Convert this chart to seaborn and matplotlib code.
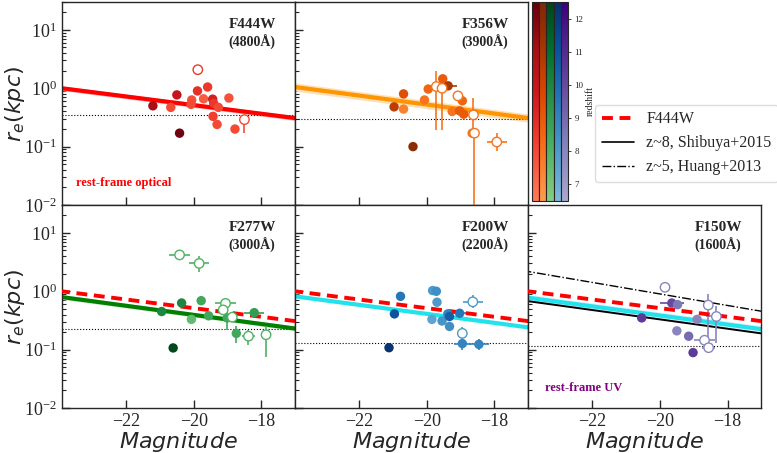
import matplotlib
matplotlib.use("Agg")
import matplotlib.colors as mcolors
import matplotlib.pyplot as plt
import numpy as np
import seaborn as sns
from matplotlib.lines import Line2D

# ---- F444W (4800A) ----
mag_f444 = [-21.21, -20.68, -20.50, -20.42, -20.06, -20.08, -19.88, -19.89, -19.71,
            -19.59, -19.44, -19.41, -19.27, -19.43, -19.31, -18.96, -18.78, -18.50]
re_f444 = [0.50, 0.47, 0.77, 0.17, 0.63, 0.53, 2.08, 0.90, 0.66,
           1.05, 0.65, 0.55, 0.47, 0.33, 0.24, 0.68, 0.20, 0.29]
z_f444 = [11.0, 8.0, 10.0, 12.3, 7.8, 8.0, 8.5, 8.8, 7.5,
          8.5, 9.5, 8.5, 8.0, 8.3, 8.0, 7.8, 8.0, 8.0]
open_f444 = [0, 0, 0, 0, 0, 0, 1, 0, 0, 0, 0, 0, 0, 0, 0, 0, 0, 1]
xerr_f444 = [0] * 18
ylo_f444 = [0] * 17 + [0.17]
yhi_f444 = [0] * 17 + [0.29]

# ---- F356W (3900A) ----
mag_f356 = [-20.97, -20.69, -20.69, -20.41, -20.07, -19.96, -19.72, -19.53, -19.55, -19.37,
            -19.25, -19.08, -18.95, -19.03, -18.91, -18.62, -18.66, -18.59, -17.93]
re_f356 = [0.48, 0.80, 0.44, 0.10, 0.63, 0.97, 1.07, 1.45, 1.00, 1.10,
           0.40, 0.74, 0.61, 0.41, 0.36, 0.35, 0.17, 0.17, 0.12]
z_f356 = [10.5, 9.5, 7.5, 12.0, 8.0, 8.5, 8.0, 9.0, 8.0, 11.0,
          8.0, 8.0, 8.5, 9.0, 9.0, 8.0, 8.0, 8.0, 8.0]
open_f356 = [0, 0, 0, 0, 0, 0, 1, 0, 1, 0, 0, 1, 0, 0, 0, 1, 0, 1, 1]
xerr_f356 = [0, 0, 0, 0, 0, 0, 0.3, 0, 0, 0.25, 0, 0, 0, 0, 0, 0, 0, 0, 0.3]
ylo_f356 = [0, 0, 0, 0, 0, 0, 0.19, 0, 0.19, 0, 0, 0, 0, 0, 0, 0.2, 0, 0.0101, 0.085]
yhi_f356 = [0, 0, 0, 0, 0, 0, 1.95, 0, 1.7, 0, 0, 0, 0, 0, 0, 0.69, 0, 0.2, 0.17]

# ---- F277W (3000A) ----
mag_f277 = [-20.42, -19.84, -20.95, -20.36, -20.61, -19.78, -20.07, -19.56,
            -19.06, -19.13, -19.01, -18.86, -18.74, -18.38, -18.21, -17.86]
re_f277 = [4.2, 3.0, 0.45, 0.63, 0.107, 0.69, 0.33, 0.38,
           0.62, 0.48, 0.35, 0.36, 0.19, 0.17, 0.43, 0.18]
z_f277 = [8.0, 8.0, 10.0, 10.0, 12.3, 8.5, 7.5, 8.5,
          8.0, 8.0, 8.5, 8.0, 8.5, 8.0, 9.0, 8.0]
open_f277 = [1, 1, 0, 0, 0, 0, 0, 0, 1, 1, 0, 1, 0, 1, 0, 1]
xerr_f277 = [0.3, 0.3, 0, 0, 0, 0, 0, 0, 0.3, 0, 0, 0, 0, 0.2, 0.3, 0]
ylo_f277 = [0, 2.1, 0, 0, 0, 0, 0, 0, 0, 0, 0.22, 0, 0.13, 0.12, 0, 0.075]
yhi_f277 = [0, 4.1, 0, 0, 0, 0, 0, 0, 0, 0, 0.5, 0, 0.25, 0.22, 0, 0.25]

# ---- F200W (2200A) ----
mag_f200 = [-20.78, -20.96, -21.12, -19.83, -19.72, -19.70, -19.85, -19.55,
            -19.38, -19.33, -19.33, -19.03, -18.64, -18.95, -18.95, -18.46]
re_f200 = [0.82, 0.41, 0.108, 1.03, 1.00, 0.65, 0.33, 0.31,
           0.41, 0.37, 0.25, 0.42, 0.66, 0.19, 0.127, 0.123]
z_f200 = [9.5, 11.0, 12.3, 8.0, 8.5, 8.0, 7.5, 8.3,
          9.0, 10.5, 8.5, 9.5, 8.0, 8.0, 9.0, 9.0]
open_f200 = [0, 0, 0, 0, 0, 0, 0, 0, 0, 0, 0, 0, 1, 1, 0, 0]
xerr_f200 = [0, 0, 0, 0, 0, 0, 0, 0, 0, 0, 0, 0.3, 0.3, 0, 0.25, 0.3]
ylo_f200 = [0, 0, 0, 0, 0, 0, 0, 0, 0, 0, 0, 0, 0.52, 0.16, 0.10, 0.10]
yhi_f200 = [0, 0, 0, 0, 0, 0, 0, 0, 0, 0, 0, 0, 0.85, 0.24, 0.16, 0.155]

# ---- F150W (1600A) ----
mag_f150 = [-20.54, -19.85, -19.65, -19.48, -19.50, -19.15,
            -19.02, -18.90, -18.57, -18.33, -18.68, -18.56]
re_f150 = [0.35, 1.17, 0.63, 0.59, 0.21, 0.17,
           0.089, 0.33, 0.58, 0.37, 0.145, 0.108]
z_f150 = [10.5, 8.0, 10.0, 8.5, 8.0, 9.0, 10.5, 8.0, 8.0, 8.0, 8.0, 8.0]
open_f150 = [0, 1, 0, 0, 0, 0, 0, 0, 1, 1, 1, 1]
xerr_f150 = [0, 0, 0.35, 0, 0, 0, 0, 0, 0, 0.3, 0.3, 0.2]
ylo_f150 = [0, 0, 0, 0, 0, 0, 0, 0, 0.089, 0.13, 0, 0]
yhi_f150 = [0, 0, 0, 0, 0, 0, 0, 0, 0.91, 0.55, 0, 0]

# size-luminosity fits: r = r0 * 10**(slope * (M + 20))
fit_r0 = {"F444W": 0.514, "F356W": 0.525, "F277W": 0.394, "F200W": 0.41, "F150W": 0.385}
fit_slope = {"F444W": -0.074, "F356W": -0.077, "F277W": -0.078, "F200W": -0.077, "F150W": -0.078}
shibuya_r0, shibuya_slope = 0.33, -0.080
huang_r0, huang_slope = 0.90, -0.0986
psf_limit = {"F444W": 0.35, "F356W": 0.30, "F277W": 0.225, "F200W": 0.13, "F150W": 0.115}

z_min, z_max = 6.5, 12.5

sns.set_style("ticks")
plt.rcParams["font.family"] = ["Liberation Serif", "DejaVu Sans"]
plt.rcParams["mathtext.fontset"] = "stix"
plt.rcParams["axes.linewidth"] = 1.0


def trunc_cmap(name, lo=0.45, hi=1.0):
    base = plt.get_cmap(name)
    return mcolors.LinearSegmentedColormap.from_list(name + "_t", base(np.linspace(lo, hi, 256)))


norm = mcolors.Normalize(z_min, z_max)
bands = [
    ("F444W", "(4800Å)", mag_f444, re_f444, z_f444, open_f444, xerr_f444, ylo_f444, yhi_f444, "Reds", "red", "#f8b8b8", 0.04),
    ("F356W", "(3900Å)", mag_f356, re_f356, z_f356, open_f356, xerr_f356, ylo_f356, yhi_f356, "Oranges", "#ff9500", "#fde0b8", 0.07),
    ("F277W", "(3000Å)", mag_f277, re_f277, z_f277, open_f277, xerr_f277, ylo_f277, yhi_f277, "Greens", "green", "#ddf0d8", 0.04),
    ("F200W", "(2200Å)", mag_f200, re_f200, z_f200, open_f200, xerr_f200, ylo_f200, yhi_f200, "Blues", "#22e2ea", "#d8f4f8", 0.0),
    ("F150W", "(1600Å)", mag_f150, re_f150, z_f150, open_f150, xerr_f150, ylo_f150, yhi_f150, "Purples", "#22e2ea", "#e2f0fa", 0.06),
]

fig = plt.figure(figsize=(7.77, 4.53), dpi=100)
lefts = [0.0798, 0.3798, 0.6798]
w, h = 0.30, 0.448
slots = [(lefts[0], 0.5475), (lefts[1], 0.5475), (lefts[0], 0.0993), (lefts[1], 0.0993), (lefts[2], 0.0993)]
mgrid = np.linspace(-24.5, -16.5, 50)
dash = (0, (2.8, 1.7))

for i, (band, wl, mag, re, zz, op, xe, ylo, yhi, cmname, lcol, bcol, bw) in enumerate(bands):
    ax = fig.add_axes([slots[i][0], slots[i][1], w, h])
    cmap = trunc_cmap(cmname)
    mag = np.array(mag)
    re = np.array(re)
    zz = np.array(zz)
    op = np.array(op, dtype=bool)
    xe = np.array(xe, dtype=float)
    ylo = np.array(ylo, dtype=float)
    yhi = np.array(yhi, dtype=float)

    # fit line + band
    fit = fit_r0[band] * 10 ** (fit_slope[band] * (mgrid + 20))
    if bw > 0:
        ax.fill_between(mgrid, fit * 10 ** -bw, fit * 10 ** bw, color=bcol, lw=0, zorder=1)
    ax.plot(mgrid, fit, color=lcol, lw=3, zorder=2)
    if band == "F150W":
        ax.plot(mgrid, shibuya_r0 * 10 ** (shibuya_slope * (mgrid + 20)), color="k", lw=1.4, zorder=2)
        ax.plot(mgrid, huang_r0 * 10 ** (huang_slope * (mgrid + 20)), color="k", lw=1.0, ls="-.", zorder=2)
    if i >= 2:
        ref = fit_r0["F444W"] * 10 ** (fit_slope["F444W"] * (mgrid + 20))
        ax.plot(mgrid, ref, color="red", lw=2.8, ls=dash, zorder=4)
    ax.axhline(psf_limit[band], color="k", ls=":", lw=0.8, zorder=1)

    cols = cmap(norm(zz))
    # error bars
    for k in range(len(mag)):
        if xe[k] > 0 or ylo[k] > 0:
            yerr = None
            if ylo[k] > 0:
                yerr = [[re[k] - ylo[k]], [yhi[k] - re[k]]]
            ax.errorbar(mag[k], re[k], xerr=xe[k] if xe[k] > 0 else None, yerr=yerr,
                        fmt="none", ecolor=cols[k], elinewidth=1.2, capsize=0, zorder=3)

    sns.scatterplot(x=mag[~op], y=re[~op], hue=zz[~op], palette=cmap, hue_norm=norm,
                    s=46, linewidth=0, legend=False, ax=ax, zorder=5)
    ax.scatter(mag[op], re[op], s=46, facecolors="white", edgecolors=cols[op], linewidths=1.0, zorder=5)

    ax.set_yscale("log")
    ax.set_ylim(0.01, 30)
    ax.set_xlim(-23.9, -17.0)
    ax.set_xticks([-22, -20, -18])
    ax.tick_params(which="both", direction="in", labelsize=13, top=False, right=False)
    ax.tick_params(which="major", length=6, width=1)
    ax.tick_params(which="minor", length=3, width=0.8)
    ax.text(0.815, 0.89, band, transform=ax.transAxes, ha="center", va="center",
            fontsize=11, fontweight="bold")
    ax.text(0.815, 0.80, wl, transform=ax.transAxes, ha="center", va="center",
            fontsize=10, fontweight="bold")

    if i in (0, 2):
        ax.set_ylabel(r"$r_e(kpc)$", fontsize=16, math_fontfamily="dejavusans")
        ax.yaxis.set_label_coords(-0.15, 0.5)
    else:
        ax.set_yticklabels([])
        ax.set_ylabel("")
    if i >= 2:
        ax.set_xlabel(r"$Magnitude$", fontsize=16, math_fontfamily="dejavusans")
        ax.xaxis.set_label_coords(0.5, -0.11)
    else:
        ax.set_xticklabels([])
        ax.set_xlabel("")
    if band == "F444W":
        ax.text(0.06, 0.11, "rest-frame optical", transform=ax.transAxes, color="red",
                fontsize=9, fontweight="bold", va="center")
    if band == "F150W":
        ax.text(0.07, 0.10, "rest-frame UV", transform=ax.transAxes, color="purple",
                fontsize=9, fontweight="bold", va="center")

# stacked redshift colorbars
cb_names = ["Reds", "Oranges", "Greens", "Blues", "Purples"]
for i, cmname in enumerate(cb_names):
    cax = fig.add_axes([0.6843 + i * 0.0094, 0.5563, 0.0094, 0.4393])
    sm = plt.cm.ScalarMappable(norm=norm, cmap=trunc_cmap(cmname))
    cb = fig.colorbar(sm, cax=cax)
    cb.outline.set_linewidth(0.8)
    if i < len(cb_names) - 1:
        cb.set_ticks([])
    else:
        cb.set_ticks(range(7, 13))
        cb.ax.tick_params(labelsize=6.5, length=2.5, width=0.6, pad=2)
        cb.set_label("redshift", fontsize=7, labelpad=2)

handles = [
    Line2D([], [], color="red", lw=2.8, ls=dash),
    Line2D([], [], color="k", lw=1.2),
    Line2D([], [], color="k", lw=1.0, ls="-."),
]
fig.legend(handles, ["F444W", "z~8, Shibuya+2015", "z~5, Huang+2013"],
           loc="upper left", bbox_to_anchor=(0.766, 0.768), fontsize=11.5,
           borderaxespad=0, handlelength=2.0, framealpha=1, edgecolor="#dddddd")

fig.savefig("out.png", dpi=100)
